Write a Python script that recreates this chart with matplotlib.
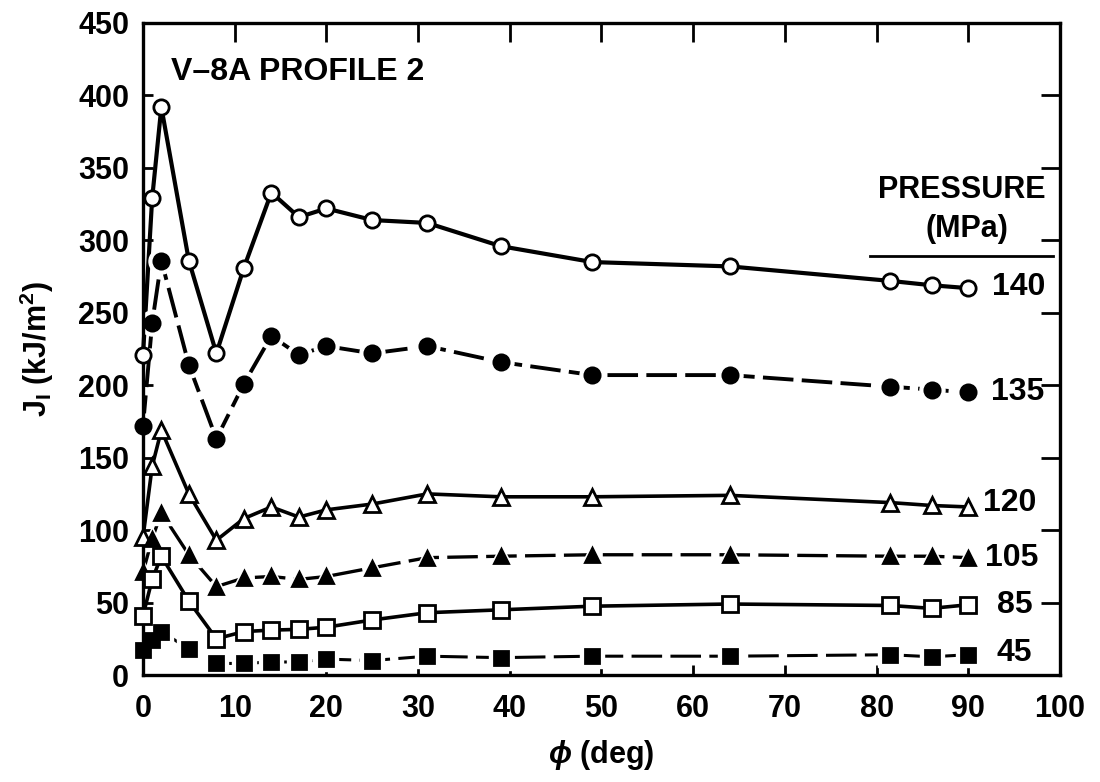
import matplotlib
matplotlib.use("Agg")
import matplotlib.pyplot as plt

plt.rcParams['font.family'] = ['Liberation Sans', 'DejaVu Sans']
plt.rcParams['mathtext.fontset'] = 'custom'
plt.rcParams['mathtext.rm'] = 'Liberation Sans:bold'
plt.rcParams['mathtext.it'] = 'Liberation Sans:italic:bold'
plt.rcParams['lines.scale_dashes'] = False

# angle (deg) of each measurement point
phi = [0, 1, 2, 5, 8, 11, 14, 17, 20, 25, 31, 39, 49, 64, 81.5, 86, 90]

# J_I (kJ/m^2) for each pressure (MPa)
j_140 = [221, 329, 392, 286, 222, 281, 333, 316, 322, 314, 312, 296, 285, 282, 272, 269, 267]
j_135 = [172, 243, 286, 214, 163, 201, 234, 221, 227, 222, 227, 216, 207, 207, 199, 197, 195]
j_120 = [95, 144, 169, 125, 93, 108, 116, 109, 114, 118, 125, 123, 123, 124, 119, 117, 116]
j_105 = [71, 94, 112, 83, 61, 67, 68, 66, 68, 74, 81, 82, 83, 83, 82, 82, 81]
j_85 = [41, 66, 82, 51, 25, 30, 31, 31.5, 33, 38, 43, 45, 47.5, 49, 48, 46, 48.5]
j_45 = [17, 24, 30, 18, 8, 8, 9, 9, 11, 10, 13, 12, 13, 13, 14, 12.6, 14]

pressures = ['140', '135', '120', '105', '85', '45']
label_pos = [(92.6, 268), (92.5, 195), (91.6, 119), (91.8, 81), (93.1, 48), (93.1, 15)]

fig = plt.figure(figsize=(11, 7.82), dpi=100)
ax = fig.add_axes([0.130, 0.1368, 0.8336, 0.8338])


def draw(y, marker, filled, dashed, ms, lw):
    face = 'black' if filled else 'white'
    if dashed:
        ax.plot(phi, y, color='black', lw=lw, dashes=(22, 6), zorder=2, clip_on=False)
        # white halo to break the line near each marker (kept under the spines)
        ax.plot(phi, y, ls='none', marker=marker, ms=ms + 7, mfc='white',
                mec='white', zorder=2.2, clip_on=False)
    else:
        ax.plot(phi, y, color='black', lw=lw, zorder=2, clip_on=False)
    ax.plot(phi, y, ls='none', marker=marker, ms=ms, mfc=face, mec='black',
            mew=2, zorder=4, clip_on=False)


draw(j_140, 'o', False, False, 11, 3.0)
draw(j_135, 'o', True, True, 11, 2.8)
draw(j_120, '^', False, False, 11, 2.6)
draw(j_105, '^', True, True, 10, 2.4)
draw(j_85, 's', False, False, 11, 2.6)
draw(j_45, 's', True, True, 10, 2.2)

ax.set_xlim(0, 100)
ax.set_ylim(0, 450)
ax.set_xticks(range(0, 101, 10))
ax.set_yticks(range(0, 451, 50))
ax.tick_params(direction='in', length=7, width=2, labelsize=22, pad=10)
ax.tick_params(axis='x', pad=14)
for t in ax.get_xticklabels() + ax.get_yticklabels():
    t.set_fontweight('bold')
for s in ax.spines.values():
    s.set_linewidth(2.4)

top = ax.secondary_xaxis('top')
top.set_xticks(range(10, 100, 10))
top.tick_params(direction='in', length=14, width=2, labeltop=False)
right = ax.secondary_yaxis('right')
right.set_yticks(range(50, 401, 50))
right.tick_params(direction='in', length=14, width=2, labelright=False)

ax.set_xlabel(r'$\phi$ (deg)', fontsize=22, fontweight='bold', labelpad=10)
ax.set_ylabel(r'J$_\mathregular{I}$ (kJ/m$^\mathregular{2}$)', fontsize=22,
              fontweight='bold', labelpad=16)

ax.text(3.0, 416, 'V\u20138A PROFILE 2', fontsize=23, va='center', ha='left',
        fontweight='bold')
ax.text(89.3, 335, 'PRESSURE', fontsize=22, va='center', ha='center',
        fontweight='bold')
ax.text(89.9, 308, '(MPa)', fontsize=22, va='center', ha='center',
        fontweight='bold')
ax.plot([79.3, 99.2], [289, 289], color='black', lw=2, zorder=2)

for name, (x, y) in zip(pressures, label_pos):
    ax.text(x, y, name, fontsize=23, va='center', ha='left', fontweight='bold')

fig.savefig('out.png', dpi=100)
